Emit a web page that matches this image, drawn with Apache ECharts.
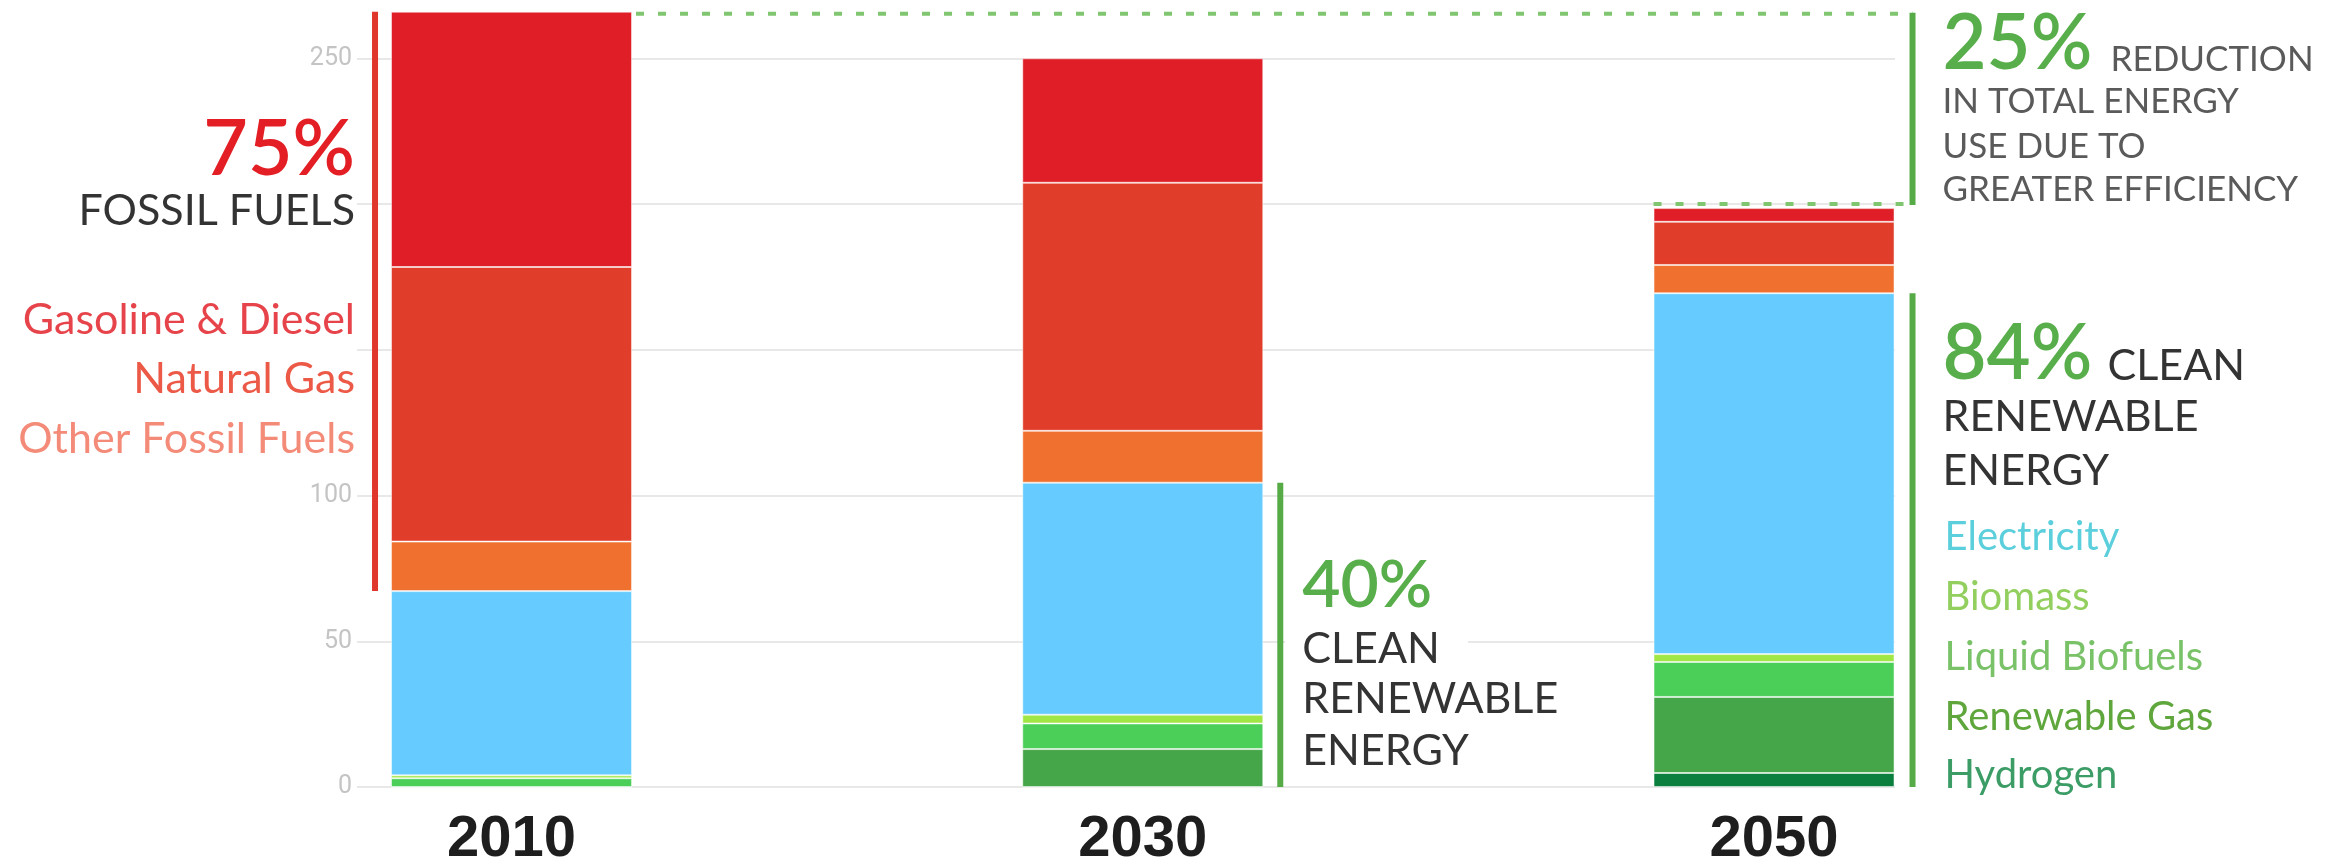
<!DOCTYPE html>
<html>
<head>
<meta charset="utf-8">
<script src="https://cdn.jsdelivr.net/npm/echarts@6/dist/echarts.min.js"></script>
<style>
html,body{margin:0;padding:0;background:#fff;}
#c{width:2338px;height:868px;}
</style>
</head>
<body>
<div id="c"></div>
<script>
// ---- data ----
const categories = ['2010', '2030', '2050'];
const hydrogen       = [0,    0,    4.8];
const renewableGas   = [0,    13.0, 26.1];
const liquidBiofuels = [3.0,  8.8,  12.0];
const biomass        = [1.0,  3.0,  2.7];
const electricity    = [63.2, 79.6, 123.8];
const otherFossil    = [17.0, 17.8, 9.7];
const naturalGas     = [94.2, 85.1, 14.8];
const gasolineDiesel = [87.6, 42.7, 4.7];
const yTickLabels    = [0, 50, 100, 250];

const seriesDefs = [
  ['Hydrogen', hydrogen, '#0b7f3e'],
  ['Renewable Gas', renewableGas, '#45a649'],
  ['Liquid Biofuels', liquidBiofuels, '#4bcf59'],
  ['Biomass', biomass, '#a0e645'],
  ['Electricity', electricity, '#66ccff'],
  ['Other Fossil Fuels', otherFossil, '#f0712f'],
  ['Natural Gas', naturalGas, '#e03d2a'],
  ['Gasoline & Diesel', gasolineDiesel, '#df1e27']
];

const chart = echarts.init(document.getElementById('c'), null, {renderer: 'canvas'});

const option = {
  animation: false,
  backgroundColor: '#fff',
  grid: [
    {left: 195.9, width: 1893.75, top: 0, bottom: 81, outerBoundsMode: 'none', containLabel: false},
    {left: 357, right: 443, top: 58.3, bottom: 81, outerBoundsMode: 'none', containLabel: false}
  ],
  xAxis: [
    {type: 'category', gridIndex: 0, data: categories,
     axisLine: {show: false}, axisTick: {show: false},
     axisLabel: {margin: 24, fontSize: 58, fontWeight: 'bold', fontFamily: 'Liberation Sans', color: '#1e1e1e'}},
    {type: 'value', gridIndex: 1, min: 0, max: 1, show: false}
  ],
  yAxis: [
    {type: 'value', gridIndex: 0, min: 0, max: 270, show: false},
    {type: 'value', gridIndex: 1, min: 0, max: 250, interval: 50,
     axisLine: {show: false}, axisTick: {show: false},
     splitLine: {lineStyle: {color: '#e8e8e8', width: 2}},
     axisLabel: {margin: 5, fontSize: 25, fontFamily: 'Liberation Sans Narrow, Roboto', color: '#c4c4c4',
       formatter: v => yTickLabels.indexOf(v) >= 0 ? String(v) : ''}}
  ],
  series: seriesDefs.map(([name, data, color]) => ({
    type: 'bar', name, data, stack: 'energy', xAxisIndex: 0, yAxisIndex: 0,
    barWidth: 241, silent: true,
    itemStyle: {color, borderColor: 'rgba(255,255,255,0.5)', borderWidth: 1}
  }))
};
chart.setOption(option);

// ---- annotations anchored to the data through the axes ----
const total = i => seriesDefs.reduce((s, d) => s + d[1][i], 0);
const clean = i => hydrogen[i] + renewableGas[i] + liquidBiofuels[i] + biomass[i] + electricity[i];
const P = (i, v) => chart.convertToPixel({xAxisIndex: 0, yAxisIndex: 0}, [categories[i], v]);
const half = 120.5;

const t2010 = P(0, total(0)), c2010 = P(0, clean(0));
const t2050 = P(2, total(2)), c2050 = P(2, clean(2)), z2050 = P(2, 0);
const c2030 = P(1, clean(1)), z2030 = P(1, 0);

const red = '#e0372c', green = '#56ab47', dot = '#80c670';
const bx2030 = c2030[0] + half + 17;
const bx2050 = t2050[0] + half + 18;

const g = [];
// red bracket beside 2010 fossil share
g.push({type: 'rect', z: 50, shape: {x: t2010[0] - half - 19, y: t2010[1], width: 6, height: c2010[1] - t2010[1]}, style: {fill: red}});
// dotted reference lines
g.push({type: 'line', z: 50, shape: {x1: t2010[0] + half + 4, y1: t2010[1] + 2, x2: bx2050, y2: t2010[1] + 2},
        style: {stroke: dot, lineWidth: 4, lineDash: [8, 14]}});
g.push({type: 'line', z: 50, shape: {x1: t2050[0] - half, y1: t2050[1] - 4, x2: bx2050, y2: t2050[1] - 4},
        style: {stroke: dot, lineWidth: 4, lineDash: [8, 14]}});
// green brackets
g.push({type: 'rect', z: 50, shape: {x: bx2050 - 3, y: t2010[1] + 1, width: 6, height: (t2050[1] - 3) - (t2010[1] + 1)}, style: {fill: green}});
g.push({type: 'rect', z: 50, shape: {x: bx2050 - 3, y: c2050[1], width: 6, height: z2050[1] - c2050[1]}, style: {fill: green}});
g.push({type: 'rect', z: 50, shape: {x: bx2030 - 3, y: c2030[1], width: 6, height: z2030[1] - c2030[1]}, style: {fill: green}});
// white backing behind the 2030 note
g.push({type: 'rect', z: 60, shape: {x: bx2030 + 5, y: 555, width: 1468 - bx2030 - 5, height: 220}, style: {fill: '#fff'}});

function txt(text, x, y, size, color, weight, align) {
  g.push({type: 'text', z: 70, x: x, y: y,
    style: {text, font: (weight || 'normal') + ' ' + size + 'px Lato', fill: color,
            align: align || 'left', textAlign: align || 'left', verticalAlign: 'middle', textVerticalAlign: 'middle'}});
}
// left block
txt('75%', 355, 150, 77, '#e31e24', 600, 'right');
txt('FOSSIL FUELS', 355, 211, 43, '#333333', 'normal', 'right');
txt('Gasoline & Diesel', 355, 320, 43, '#e6444a', 'normal', 'right');
txt('Natural Gas', 355, 379, 43, '#ec5a47', 'normal', 'right');
txt('Other Fossil Fuels', 355, 439, 43, '#f48a78', 'normal', 'right');
// 2030 note
const x30 = bx2030 + 22;
txt('40%', x30, 586, 66, '#58ae4a', 600);
txt('CLEAN', x30, 649, 43, '#333333');
txt('RENEWABLE', x30, 699, 43, '#333333');
txt('ENERGY', x30, 751, 43, '#333333');
// 2050 notes
const x50 = bx2050 + 30;
txt('25%', x50, 44, 76, '#58ae4a', 600);
txt('REDUCTION', x50 + 168, 60, 35, '#5a5a5a');
txt('IN TOTAL ENERGY', x50, 102, 35, '#5a5a5a');
txt('USE DUE TO', x50, 147, 35, '#5a5a5a');
txt('GREATER EFFICIENCY', x50, 190, 35, '#5a5a5a');
txt('84%', x50, 354, 76, '#58ae4a', 600);
txt('CLEAN', x50 + 165, 366, 43, '#333333');
txt('RENEWABLE', x50, 417, 43, '#333333');
txt('ENERGY', x50, 471, 43, '#333333');
txt('Electricity', x50 + 2, 537, 40, '#5ccfdc');
txt('Biomass', x50 + 2, 597, 40, '#92cf5e');
txt('Liquid Biofuels', x50 + 2, 657, 40, '#79c268');
txt('Renewable Gas', x50 + 2, 717, 40, '#5fa63c');
txt('Hydrogen', x50 + 2, 775, 40, '#3c9c66');

chart.setOption({graphic: {elements: g}});
</script>
</body>
</html>
